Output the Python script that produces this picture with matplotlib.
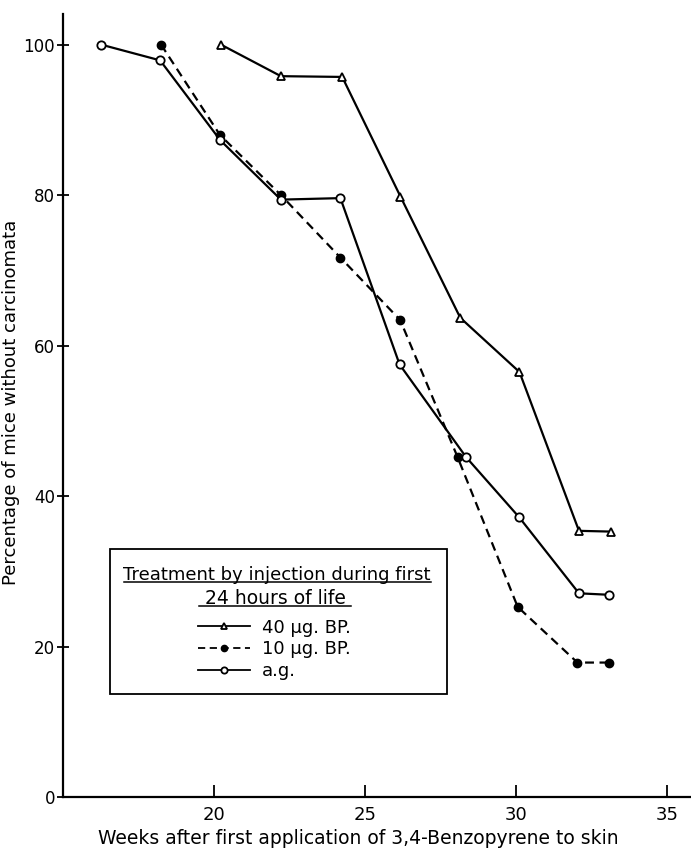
import matplotlib
matplotlib.use("Agg")
import matplotlib.pyplot as plt
from matplotlib.lines import Line2D
from matplotlib.patches import Rectangle

plt.rcParams['font.family'] = ['DejaVu Sans']

# values (weeks, % of mice without carcinomata)
weeks_40 = [20.23, 22.22, 24.25, 26.18, 28.16, 30.12, 32.09, 33.14]
pct_40 = [100.0, 95.8, 95.7, 79.8, 63.7, 56.5, 35.4, 35.3]

weeks_10 = [18.25, 20.2, 22.22, 24.19, 26.17, 28.07, 30.06, 32.04, 33.08]
pct_10 = [100.0, 88.0, 80.0, 71.7, 63.4, 45.2, 25.3, 17.9, 17.9]

weeks_ag = [16.26, 18.22, 20.21, 22.22, 24.19, 26.15, 28.35, 30.11, 32.09, 33.1]
pct_ag = [100.0, 97.9, 87.3, 79.4, 79.6, 57.5, 45.2, 37.2, 27.1, 26.9]

labels = ['40 \u03bcg. BP.', '10 \u03bcg. BP.', 'a.g.']
xticks = [20, 25, 30, 35]
yticks = [0, 20, 40, 60, 80, 100]

fig = plt.figure(figsize=(6.91, 8.5), dpi=100)
ax = fig.add_axes([0.091, 0.062, 0.909, 0.921])

lw = 1.6
ax.plot(weeks_40, pct_40, '-', color='black', lw=lw, marker='^', ms=6,
        mfc='white', mec='black', mew=1.3, label=labels[0])
ax.plot(weeks_10, pct_10, '--', color='black', lw=lw, dashes=(4, 2.5), marker='o', ms=6,
        mfc='black', mec='black', label=labels[1])
ax.plot(weeks_ag, pct_ag, '-', color='black', lw=lw, marker='o', ms=6,
        mfc='white', mec='black', mew=1.3, label=labels[2])

ax.set_xlim(15.0, 35.8)
ax.set_ylim(0, 104)
ax.set_xticks(xticks)
ax.set_yticks(yticks)
ax.spines['top'].set_visible(False)
ax.spines['right'].set_visible(False)
ax.spines['left'].set_linewidth(1.6)
ax.spines['bottom'].set_linewidth(1.6)
ax.tick_params(axis='x', direction='in', length=9, width=1.3, labelsize=13, pad=6)
ax.tick_params(axis='y', direction='inout', length=9, width=1.3, labelsize=12, pad=1)

ax.set_xlabel('Weeks after first application of 3,4-Benzopyrene to skin', fontsize=13.5)
ax.xaxis.set_label_coords(0.47, -0.040)
ax.set_ylabel('Percentage of mice without carcinomata', fontsize=13)
ax.yaxis.set_label_coords(-0.068, 0.504)

# legend box with underlined two-line heading
ax.add_patch(Rectangle((0.075, 0.1315), 0.536, 0.1855, transform=ax.transAxes,
                       fill=False, lw=1.3, ec='black', zorder=5))
ax.text(0.341, 0.2835, 'Treatment by injection during first', transform=ax.transAxes,
        ha='center', va='center', fontsize=13)
ax.text(0.338, 0.254, '24 hours of life', transform=ax.transAxes,
        ha='center', va='center', fontsize=13.5)
ax.add_line(Line2D([0.097, 0.586], [0.275, 0.275], transform=ax.transAxes, color='black', lw=1.1))
ax.add_line(Line2D([0.217, 0.458], [0.244, 0.244], transform=ax.transAxes, color='black', lw=1.1))

leg = ax.legend(loc='upper left', bbox_to_anchor=(0.215, 0.228), frameon=False,
                fontsize=13, handlelength=2.9, handletextpad=0.65, labelspacing=0.2,
                borderpad=0, borderaxespad=0)
for h in leg.legend_handles:
    h.set_markersize(4.5)
    h.set_linewidth(1.3)

fig.savefig('out.png', dpi=100)
